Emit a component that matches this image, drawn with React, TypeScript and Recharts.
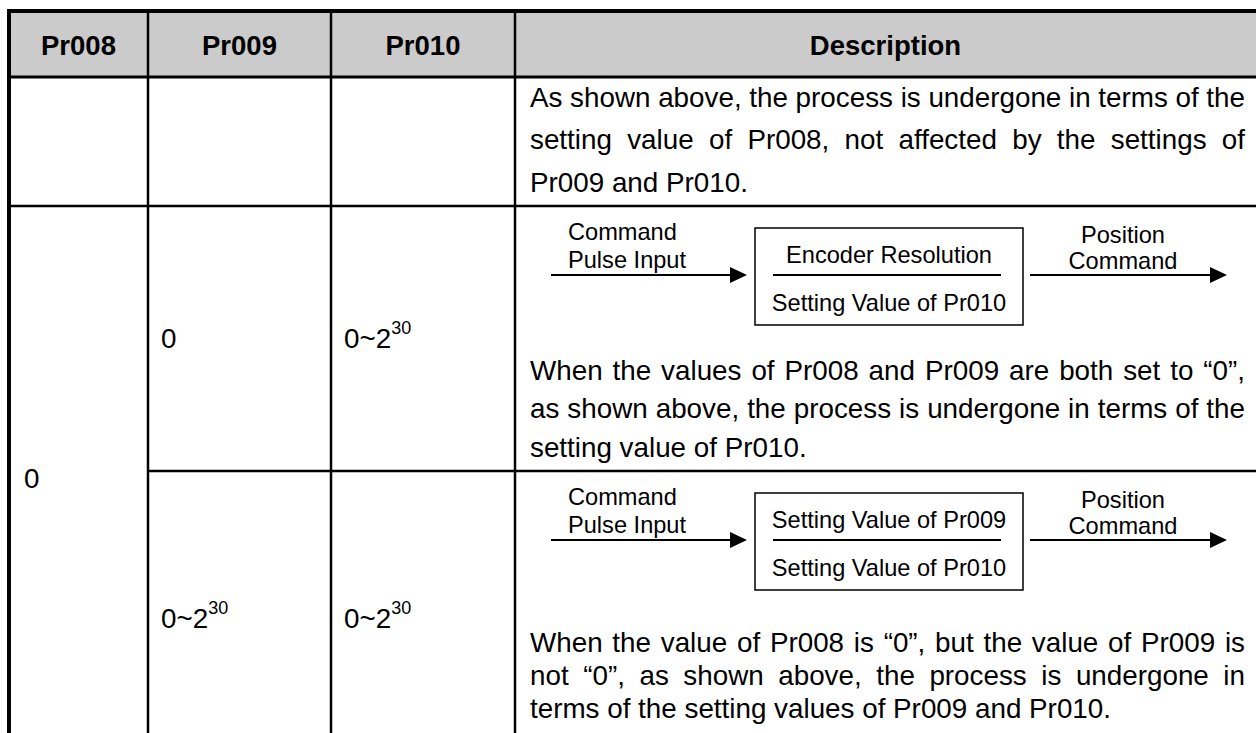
import React from "react";
import {
  ComposedChart,
  XAxis,
  YAxis,
  ReferenceArea,
  ReferenceLine,
  ReferenceDot,
} from "recharts";

const W = 1256;
const H = 733;
const FONT = "'Liberation Sans', Arial, sans-serif";

// table frame (x and y are in the chart's own units, 1 unit = 1px)
const colEdges = [9, 148, 331, 515, 1256];
const rowEdges = [11, 77, 206, 471, 733];

const headers = ["Pr008", "Pr009", "Pr010", "Description"];

// Pr008 / Pr009 / Pr010 cells: base text, superscript, row centre
const pr008Cells = [{ base: "0", sup: "", y: 478 }];
const pr009Cells = [
  { base: "0", sup: "", y: 338 },
  { base: "0~2", sup: "30", y: 618 },
];
const pr010Cells = [
  { base: "0~2", sup: "30", y: 338 },
  { base: "0~2", sup: "30", y: 618 },
];

// description paragraphs
const row1Lines = [
  "As shown above, the process is undergone in terms of the",
  "setting value of Pr008, not affected by the settings of",
  "Pr009 and Pr010.",
];
const row2Lines = [
  "When the values of Pr008 and Pr009 are both set to \u201c0\u201d,",
  "as shown above, the process is undergone in terms of the",
  "setting value of Pr010.",
];
const row3Lines = [
  "When the value of Pr008 is \u201c0\u201d, but the value of Pr009 is",
  "not \u201c0\u201d, as shown above, the process is undergone in",
  "terms of the setting values of Pr009 and Pr010.",
];
const row1LineY = [97, 139, 182];
const row2LineY = [370, 408, 447];
const row3LineY = [642, 675, 708];

// block diagrams inside the description cells
const diagramTops = [206, 471];
const numerators = ["Encoder Resolution", "Setting Value of Pr009"];
const denominators = ["Setting Value of Pr010", "Setting Value of Pr010"];
const inputLabel = ["Command", "Pulse Input"];
const outputLabel = ["Position", "Command"];

const TEXT_X1 = 530;
const TEXT_X2 = 1245;
const BODY = 27.8;
const SMALL = 23.6;

const ctx =
  typeof document !== "undefined"
    ? document.createElement("canvas").getContext("2d")
    : null;

function textWidth(s: string, size: number) {
  if (!ctx) return s.length * size * 0.5;
  ctx.font = `${size}px ${FONT}`;
  return ctx.measureText(s).width;
}

const BodyLine = ({ cx, cy, text, justify }: any) => {
  let ws = 0;
  if (justify) {
    const spaces = text.split(" ").length - 1;
    ws = (TEXT_X2 - TEXT_X1 - textWidth(text, BODY)) / spaces;
  }
  return (
    <text
      x={cx}
      y={cy}
      fontSize={BODY}
      fontFamily={FONT}
      fill="#000"
      dominantBaseline="central"
      style={{ wordSpacing: ws }}
    >
      {text}
    </text>
  );
};

const Label = ({ cx, cy, text, size, anchor, weight }: any) => (
  <text
    x={cx}
    y={cy}
    fontSize={size}
    fontFamily={FONT}
    fontWeight={weight || "normal"}
    fill="#000"
    textAnchor={anchor || "start"}
    dominantBaseline="central"
  >
    {text}
  </text>
);

const PowerLabel = ({ cx, cy, base, sup }: any) => (
  <text x={cx} y={cy} fontSize={BODY} fontFamily={FONT} fill="#000" dominantBaseline="central">
    {base}
    {sup ? (
      <tspan fontSize={18} dy={-10}>
        {sup}
      </tspan>
    ) : null}
  </text>
);

const Arrow = (props: any) => {
  const { x1, y1, x2, y2 } = props;
  return (
    <g>
      <line x1={x1} y1={y1} x2={x2 - 14} y2={y2} stroke="#000" strokeWidth={2} />
      <polygon points={`${x2},${y2} ${x2 - 17},${y2 - 8} ${x2 - 17},${y2 + 8}`} fill="#000" />
    </g>
  );
};

const frameLine = (key: string, a: [number, number], b: [number, number], w: number) => (
  <ReferenceLine
    key={key}
    segment={[
      { x: a[0], y: a[1] },
      { x: b[0], y: b[1] },
    ]}
    stroke="#000"
    strokeWidth={w}
    ifOverflow="visible"
  />
);

export default function App() {
  const left = colEdges[0];
  const right = colEdges[colEdges.length - 1];
  const bottom = rowEdges[rowEdges.length - 1];

  return (
    <div style={{ position: "absolute", left: 0, top: 0, width: W, height: H, background: "#fff" }}>
      <ComposedChart width={W} height={H} data={[]} margin={{ top: 0, right: 0, bottom: 0, left: 0 }}>
        <XAxis type="number" dataKey="x" domain={[0, W]} hide allowDataOverflow />
        <YAxis type="number" domain={[0, H]} reversed hide allowDataOverflow />

        {/* header background */}
        <ReferenceArea
          x1={left + 2}
          x2={right}
          y1={rowEdges[0] + 2}
          y2={rowEdges[1]}
          fill="#cbcbcb"
          fillOpacity={1}
          stroke="none"
          ifOverflow="visible"
        />

        {/* grid */}
        {colEdges.slice(1, 4).map((x, i) => frameLine(`c${i}`, [x, rowEdges[0]], [x, bottom], 2.5))}
        {frameLine("h1", [left, rowEdges[1]], [right, rowEdges[1]], 3)}
        {frameLine("h2", [left, rowEdges[2]], [right, rowEdges[2]], 2.5)}
        {frameLine("h3", [colEdges[1], rowEdges[3]], [right, rowEdges[3]], 2.5)}
        {frameLine("top", [left - 2, rowEdges[0]], [right, rowEdges[0]], 4)}
        {frameLine("left", [left, rowEdges[0] - 2], [left, bottom], 4)}

        {/* header labels */}
        {headers.map((h, i) => (
          <ReferenceDot
            key={h}
            x={(colEdges[i] + colEdges[i + 1]) / 2}
            y={(rowEdges[0] + rowEdges[1]) / 2 + 1}
            r={0}
            ifOverflow="visible"
            shape={(p: any) => <Label {...p} text={h} size={27.5} anchor="middle" weight="bold" />}
          />
        ))}

        {/* parameter values */}
        {pr008Cells.map((c, i) => (
          <ReferenceDot
            key={`a${i}`}
            x={colEdges[0] + 15}
            y={c.y}
            r={0}
            ifOverflow="visible"
            shape={(p: any) => <PowerLabel {...p} base={c.base} sup={c.sup} />}
          />
        ))}
        {pr009Cells.map((c, i) => (
          <ReferenceDot
            key={`b${i}`}
            x={colEdges[1] + 13}
            y={c.y}
            r={0}
            ifOverflow="visible"
            shape={(p: any) => <PowerLabel {...p} base={c.base} sup={c.sup} />}
          />
        ))}
        {pr010Cells.map((c, i) => (
          <ReferenceDot
            key={`d${i}`}
            x={colEdges[2] + 13}
            y={c.y}
            r={0}
            ifOverflow="visible"
            shape={(p: any) => <PowerLabel {...p} base={c.base} sup={c.sup} />}
          />
        ))}

        {/* description text */}
        {[row1Lines, row2Lines, row3Lines].map((lines, r) => {
          const ys = [row1LineY, row2LineY, row3LineY][r];
          return lines.map((t, i) => (
            <ReferenceDot
              key={`t${r}-${i}`}
              x={TEXT_X1}
              y={ys[i]}
              r={0}
              ifOverflow="visible"
              shape={(p: any) => <BodyLine {...p} text={t} justify={i < lines.length - 1} />}
            />
          ));
        })}

        {/* block diagrams */}
        {diagramTops.map((top, d) => (
          <React.Fragment key={`g${d}`}>
            <ReferenceArea
              x1={755}
              x2={1023}
              y1={top + 22}
              y2={top + 119}
              fill="#fff"
              fillOpacity={1}
              stroke="#000"
              strokeWidth={1.5}
              ifOverflow="visible"
            />
            <ReferenceLine
              segment={[
                { x: 773, y: top + 69 },
                { x: 1001, y: top + 69 },
              ]}
              stroke="#000"
              strokeWidth={2}
              ifOverflow="visible"
            />
            <ReferenceLine
              segment={[
                { x: 551, y: top + 69 },
                { x: 747, y: top + 69 },
              ]}
              ifOverflow="visible"
              shape={Arrow}
            />
            <ReferenceLine
              segment={[
                { x: 1030, y: top + 69 },
                { x: 1227, y: top + 69 },
              ]}
              ifOverflow="visible"
              shape={Arrow}
            />
            <ReferenceDot
              x={889}
              y={top + 49}
              r={0}
              ifOverflow="visible"
              shape={(p: any) => <Label {...p} text={numerators[d]} size={SMALL} anchor="middle" />}
            />
            <ReferenceDot
              x={889}
              y={top + 97}
              r={0}
              ifOverflow="visible"
              shape={(p: any) => <Label {...p} text={denominators[d]} size={SMALL} anchor="middle" />}
            />
            {inputLabel.map((t, i) => (
              <ReferenceDot
                key={`in${i}`}
                x={568}
                y={top + 26 + i * 28}
                r={0}
                ifOverflow="visible"
                shape={(p: any) => <Label {...p} text={t} size={SMALL} />}
              />
            ))}
            {outputLabel.map((t, i) => (
              <ReferenceDot
                key={`out${i}`}
                x={1123}
                y={top + 29 + i * 26}
                r={0}
                ifOverflow="visible"
                shape={(p: any) => <Label {...p} text={t} size={SMALL} anchor="middle" />}
              />
            ))}
          </React.Fragment>
        ))}
      </ComposedChart>
    </div>
  );
}
